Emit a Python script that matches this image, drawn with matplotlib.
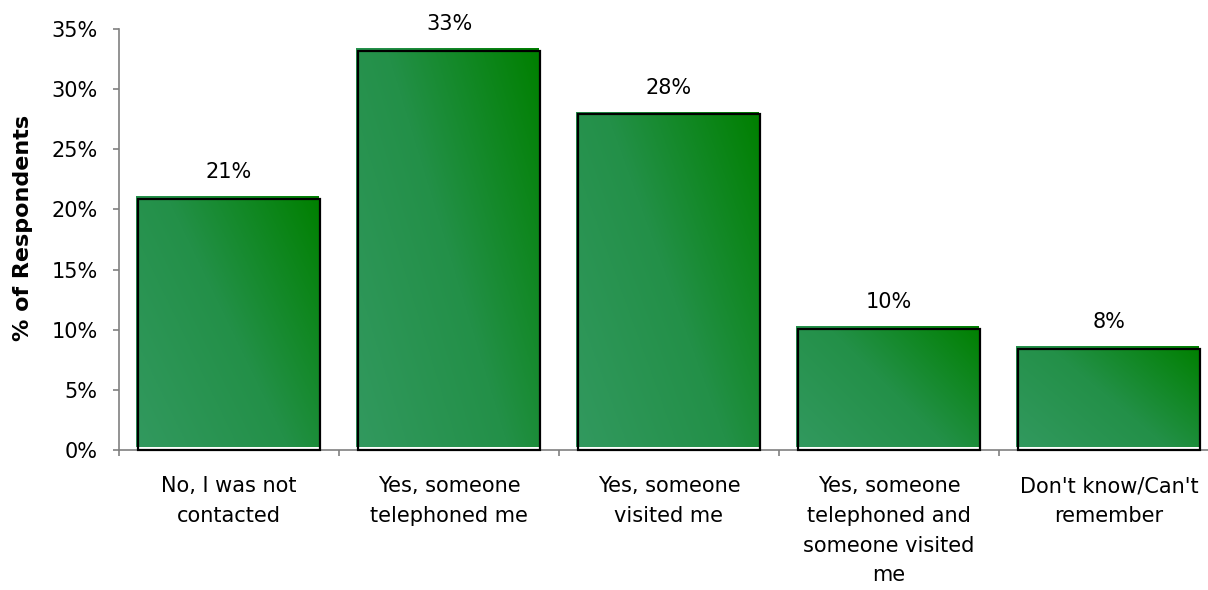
import numpy as np
import matplotlib
matplotlib.use("Agg")
import matplotlib.pyplot as plt
from matplotlib.patches import Rectangle
from matplotlib.colors import LinearSegmentedColormap
import matplotlib.transforms as mtransforms

plt.rcParams['font.family'] = ['DejaVu Sans']

categories = ["No, I was not\ncontacted", "Yes, someone\ntelephoned me", "Yes, someone\nvisited me",
              "Yes, someone\ntelephoned and\nsomeone visited\nme", "Don't know/Can't\nremember"]
values = [20.9, 33.2, 27.9, 10.1, 8.4]
value_labels = ["21%", "33%", "28%", "10%", "8%"]
yticks = [0, 5, 10, 15, 20, 25, 30, 35]
ytick_labels = ["0%", "5%", "10%", "15%", "20%", "25%", "30%", "35%"]

W, H = 1208, 590
fig = plt.figure(figsize=(W / 100, H / 100), dpi=100)
ax = fig.add_axes([119 / W, 140 / H, 1100 / W, 421 / H])
ax.set_xlim(0, len(categories))
ax.set_ylim(0, 35)

cmap = LinearSegmentedColormap.from_list("g", ["#32995f", "#239048", "#008000"])
gx, gy = np.meshgrid(np.linspace(0, 1, 200), np.linspace(0, 1, 200))
grad = (gx * 0.6 + gy * 0.4)

bw = 0.83
for i, v in enumerate(values):
    x0 = i + 0.5 - bw / 2
    sh = mtransforms.offset_copy(ax.transData, fig=fig, x=-2, y=2.5, units='dots')
    im = ax.imshow(grad, cmap=cmap, extent=[x0, x0 + bw, 0, v], origin='lower',
                   aspect='auto', transform=sh, zorder=2, interpolation='bilinear')
    clip = Rectangle((x0, 0), bw, v, transform=sh, facecolor='none', edgecolor='none')
    ax.add_patch(clip)
    im.set_clip_path(clip)
    ax.add_patch(Rectangle((x0, 0), bw, v, facecolor='none', edgecolor='black',
                           linewidth=1.6, zorder=3, clip_on=False))
    ax.text(i + 0.5, v + 2.2, value_labels[i], ha='center', va='center', fontsize=15)

ax.set_xlim(0, len(categories))
ax.set_ylim(0, 35)

for s in ['top', 'right']:
    ax.spines[s].set_visible(False)
for s in ['left', 'bottom']:
    ax.spines[s].set_color('#808080')
    ax.spines[s].set_linewidth(1.2)
    ax.spines[s].set_zorder(1)

ax.set_yticks(yticks)
ax.set_yticklabels(ytick_labels, fontsize=15)
ax.set_xticks(np.arange(0, len(categories) + 1))
ax.set_xticklabels([])
ax.set_xticks(np.arange(len(categories)) + 0.5, minor=True)
ax.set_xticklabels(categories, minor=True, fontsize=15, linespacing=1.6)
ax.tick_params(axis='x', which='minor', length=0, pad=19)
ax.tick_params(axis='both', which='major', length=4.5, color='#808080', width=1.2, direction='out')
ax.tick_params(axis='y', pad=11)
for lab in ax.get_xticklabels(minor=True):
    lab.set_verticalalignment('top')

ax.set_ylabel("% of Respondents", fontsize=16, fontweight='bold')
ax.yaxis.set_label_coords(-0.078, 0.527)

fig.savefig("out.png", dpi=100)
